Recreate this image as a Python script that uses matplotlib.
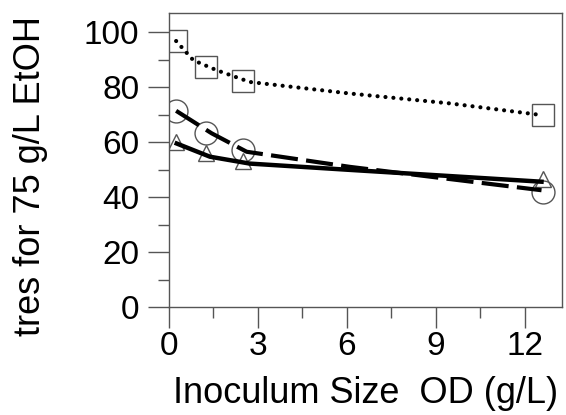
import numpy as np
import matplotlib
matplotlib.use("Agg")
import matplotlib.pyplot as plt
from matplotlib.ticker import MultipleLocator

plt.rcParams['font.family'] = ['Liberation Sans', 'DejaVu Sans']

# measured points (inoculum OD, residence time)
od = [0.25, 1.25, 2.5, 12.6]
tres_sq = [96.8, 87.2, 82.2, 69.8]
tres_circ = [71.2, 63.3, 57.1, 42.0]
tres_tri = [60.0, 56.0, 53.2, 46.6]

# fitted curves
fit_sq_x = [0.24, 0.82, 1.6, 2.72, 6.1, 9.47, 12.6]
fit_sq_y = [96.8, 89.8, 86.2, 81.9, 77.7, 74.1, 69.8]
fit_circ_x = [0.24, 1.44, 2.62, 6.1, 12.56]
fit_circ_y = [71.4, 63.2, 56.5, 51.0, 42.5]
fit_tri_x = [0.26, 1.38, 2.72, 6.1, 12.56]
fit_tri_y = [59.5, 54.7, 52.2, 49.9, 45.6]

fig = plt.figure(figsize=(5.66, 4.15), dpi=100)
ax = fig.add_axes([0.2986, 0.2602, 0.6943, 0.7085])

edge = '#555555'
ax.plot(od, tres_sq, ls='none', marker='s', ms=15.8, mfc='none', mec=edge, mew=1.0, zorder=2)
ax.plot(od, tres_circ, ls='none', marker='o', ms=16.5, mfc='none', mec=edge, mew=1.0, zorder=2)
ax.plot(od, tres_tri, ls='none', marker='^', ms=11, mfc='none', mec=edge, mew=1.0, zorder=2)

ax.plot(fit_sq_x, fit_sq_y, color='black', lw=3, ls=(0, (0.01, 1.9)),
        dash_capstyle='round', zorder=3)
ax.plot(fit_circ_x, fit_circ_y, color='black', lw=3, ls=(0, (6.5, 2)), zorder=3)
ax.plot(fit_tri_x, fit_tri_y, color='black', lw=3.2, ls='-', zorder=3)

ax.set_xlim(0, 13.25)
ax.set_ylim(0, 107)
ax.xaxis.set_major_locator(MultipleLocator(3))
ax.xaxis.set_minor_locator(MultipleLocator(1.5))
ax.yaxis.set_major_locator(MultipleLocator(20))
ax.yaxis.set_minor_locator(MultipleLocator(10))

for s in ax.spines.values():
    s.set_color(edge)
    s.set_linewidth(1.0)
ax.tick_params(which='major', direction='out', length=15, width=1.0, color=edge,
               labelsize=24)
ax.tick_params(axis='y', which='major', pad=6.5)
ax.tick_params(axis='x', which='major', pad=2)
ax.tick_params(which='minor', direction='out', length=8, width=1.0, color=edge)

ax.set_xlabel('Inoculum Size  OD (g/L)', fontsize=26)
ax.set_ylabel('tres for 75 g/L EtOH', fontsize=26)
ax.xaxis.set_label_coords(0.50, -0.235)
ax.yaxis.set_label_coords(-0.308, 0.447)

fig.savefig('out.png', dpi=100)
